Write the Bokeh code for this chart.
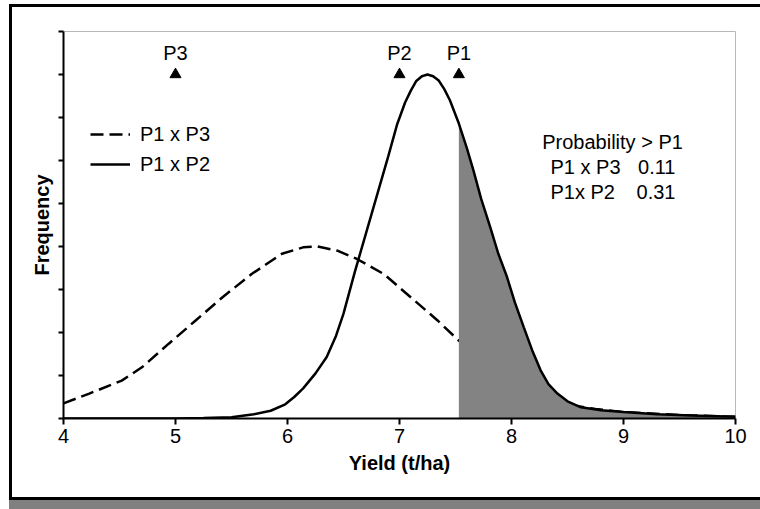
from bokeh.plotting import figure
from bokeh.models import Range1d, FixedTicker, Legend, LegendItem
from bokeh.embed import file_html
from bokeh.resources import INLINE
from bokeh.core.properties import value

FONT = "Liberation Sans"

# ---- data ----
# P1 x P2 (solid curve)
p12_x = [4.0, 4.5, 5.0, 5.25, 5.5, 5.7, 5.85, 5.98, 6.06, 6.14, 6.25, 6.35, 6.43,
         6.5, 6.6, 6.7, 6.8, 6.9, 6.98, 7.05, 7.1, 7.15, 7.2, 7.25, 7.3, 7.35,
         7.4, 7.45, 7.53, 7.6, 7.66, 7.73, 7.81, 7.88, 7.96, 8.03, 8.11, 8.19,
         8.26, 8.33, 8.41, 8.5, 8.62, 8.8, 9.0, 9.3, 9.6, 10.0]
p12_y = [0.0, 0.0, 0.0, 0.01, 0.03, 0.1, 0.18, 0.33, 0.5, 0.7, 1.05, 1.43, 1.9,
         2.44, 3.4, 4.3, 5.2, 6.1, 6.85, 7.35, 7.62, 7.85, 7.96, 8.0, 7.96, 7.86,
         7.66, 7.4, 6.86, 6.3, 5.77, 5.1, 4.45, 3.85, 3.29, 2.7, 2.12, 1.55,
         1.12, 0.8, 0.58, 0.4, 0.26, 0.19, 0.15, 0.1, 0.07, 0.04]
# P1 x P3 (dashed curve)
p13_x = [4.0, 4.23, 4.52, 4.7, 4.94, 5.18, 5.42, 5.68, 5.95, 6.14, 6.27, 6.45,
         6.62, 6.86, 7.1, 7.34, 7.53, 7.75, 8.0, 8.25, 8.5, 8.75, 9.0, 9.5, 10.0]
p13_y = [0.35, 0.58, 0.88, 1.19, 1.74, 2.28, 2.82, 3.36, 3.83, 3.98, 4.0, 3.9,
         3.71, 3.36, 2.82, 2.28, 1.81, 1.3, 0.85, 0.52, 0.33, 0.22, 0.15, 0.08, 0.04]

parent_x = [5.0, 7.0, 7.53]
parent_labels = ["P3", "P2", "P1"]
parent_level = 8.0
p1_yield = 7.53

x_ticks = [4, 5, 6, 7, 8, 9, 10]
y_ticks = [0, 1, 2, 3, 4, 5, 6, 7, 8, 9]

prob_header = "Probability > P1"
prob_names = ["P1 x P3", "P1x P2"]
prob_values = ["0.11", "0.31"]

# ---- figure ----
p = figure(width=760, height=509, output_backend="svg", toolbar_location=None,
           x_range=Range1d(4, 10), y_range=Range1d(0, 9),
           min_border_left=63, min_border_right=25, min_border_top=31,
           min_border_bottom=91)
p.border_fill_alpha = 0
p.background_fill_color = "white"
p.outline_line_color = "#b8b8b8"
p.outline_line_width = 1
p.grid.visible = False
p.styles = {
    "background-color": "white",
    "box-shadow": ("inset 9px 0 0 0 #ffffff, inset 0 4px 0 0 #ffffff, "
                   "inset 0 -9px 0 0 #808080, inset 12px 0 0 0 #000000, "
                   "inset 0 7px 0 0 #000000, inset 0 -12px 0 0 #000000"),
}

# axes
p.xaxis.ticker = FixedTicker(ticks=x_ticks)
p.yaxis.ticker = FixedTicker(ticks=y_ticks)
for ax in (p.xaxis, p.yaxis):
    ax.axis_line_color = "black"
    ax.axis_line_width = 2
    ax.major_tick_line_color = "black"
    ax.major_tick_line_width = 2
    ax.major_tick_in = 0
    ax.minor_tick_line_color = None
    ax.axis_label_text_font = FONT
    ax.axis_label_text_font_style = "bold"
    ax.axis_label_text_font_size = "20px"
    ax.axis_label_text_color = "black"
    ax.major_label_text_font = FONT
p.xaxis.major_label_text_color = "black"
p.xaxis.major_tick_out = 6
p.xaxis.major_label_text_font_size = "20px"
p.xaxis.major_label_standoff = 4
p.xaxis.axis_label = "Yield (t/ha)"
p.xaxis.axis_label_standoff = 6
p.yaxis.major_tick_out = 5
p.yaxis.major_label_text_font_size = "0px"
p.yaxis.major_label_text_color = None
p.yaxis.major_label_standoff = 0
p.yaxis.axis_label = "Frequency"
p.yaxis.axis_label_standoff = 6

# curves
r13 = p.line(p13_x, p13_y, line_color="black", line_width=2.5, line_dash="13 6")

shade_x = [x for x in p12_x if x >= p1_yield]
shade_y = [y for x, y in zip(p12_x, p12_y) if x >= p1_yield]
p.varea(x=shade_x, y1=[0] * len(shade_x), y2=shade_y, fill_color="#838383")

r12 = p.line(p12_x, p12_y, line_color="black", line_width=2.5)

# parent markers
p.scatter(parent_x, [parent_level] * len(parent_x), marker="triangle", size=11,
          fill_color="black", line_color="black")
p.text(parent_x, [parent_level + 0.51] * len(parent_x), text=parent_labels,
       text_font=value(FONT), text_font_size="20px", text_align="center",
       text_baseline="middle", text_color="black")

# probability box
p.text([8.902], [6.44], text=[prob_header], text_font=value(FONT),
       text_font_size="20px", text_align="center", text_baseline="middle",
       text_color="black")
p.text([8.348, 8.348], [5.86, 5.26], text=prob_names, text_font=value(FONT),
       text_font_size="20px", text_align="left", text_baseline="middle",
       text_color="black")
p.text([9.464, 9.464], [5.86, 5.26], text=prob_values, text_font=value(FONT),
       text_font_size="20px", text_align="right", text_baseline="middle",
       text_color="black")

legend = Legend(items=[LegendItem(label="P1 x P3", renderers=[r13]),
                       LegendItem(label="P1 x P2", renderers=[r12])],
                location=(27, 241), border_line_color=None,
                background_fill_alpha=0, padding=0, margin=0, spacing=4,
                label_height=26, glyph_height=26, glyph_width=40,
                label_standoff=10, label_text_font=FONT,
                label_text_font_size="20px", label_text_color="black")
p.add_layout(legend)

open("out.html", "w").write(file_html(p, INLINE))
